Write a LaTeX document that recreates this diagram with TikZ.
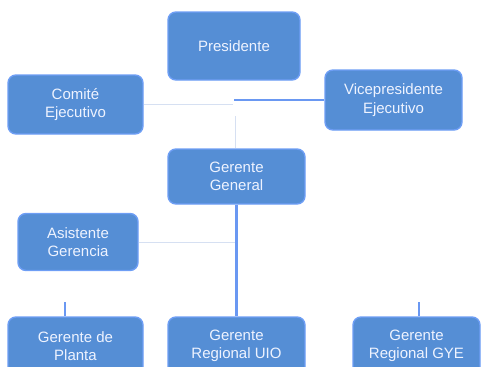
\documentclass[tikz,border=0pt]{standalone}
\usepackage{fontspec}
\setmainfont{Liberation Sans}
\usepackage{tikz}

\definecolor{boxfill}{HTML}{558ED5}
\definecolor{boxline}{HTML}{6E9EF5}
\definecolor{boxtext}{HTML}{EEF3FF}
\definecolor{linklight}{HTML}{D6E0F2}
\definecolor{linkblue}{HTML}{6A98F2}

\begin{document}
\begin{tikzpicture}[
            x = 1pt, y = -1pt, % pixel grid, y grows downwards
            font = \fontsize{15}{18.5}\selectfont
        ]

        \tikzstyle{post}=[
            draw = boxline,
            line width = 1.4pt,
            fill = boxfill,
            text = boxtext,
            rounded corners = 8pt,
            align = center,
            inner sep = 0pt
        ]
        \tikzstyle{thin link}=[draw = linklight, line width = 1pt]
        \tikzstyle{blue link}=[draw = linkblue, line width = 1.6pt]
        \tikzstyle{main link}=[draw = linkblue, line width = 3pt]

        \useasboundingbox (0,0) rectangle (483,367);

        % free ends of the links
        \coordinate (jC) at (233,104.5);
        \coordinate (jV) at (234,100);
        \coordinate (jG) at (235,116);
        \coordinate (sP) at (65,302);
        \coordinate (sY) at (419,302);

        \node[post, minimum width=132pt, minimum height=68pt] (pres) at (234,46) {Presidente};
        \node[post, minimum width=135pt, minimum height=59pt] (comite) at (75.5,104.5) {Comité\\Ejecutivo};
        \node[post, minimum width=137pt, minimum height=60pt] (vice) at (393.5,100) {Vicepresidente\\Ejecutivo};
        \node[post, minimum width=137pt, minimum height=55pt] (gg) at (236.5,176.5) {Gerente\\General};
        \node[post, minimum width=120pt, minimum height=57pt] (asis) at (78,242) {Asistente\\Gerencia};
        \node[post, minimum width=135pt, minimum height=58pt] (planta) at (75.5,346) {Gerente de\\Planta};
        \node[post, minimum width=137pt, minimum height=58pt] (uio) at (236.5,346) {Gerente\\Regional UIO};
        \node[post, minimum width=127pt, minimum height=58pt] (gye) at (416.5,346) {Gerente\\Regional GYE};

		% upper links
        \path[thin link] (comite.east) -- (jC);
        \path[blue link] (jV) -- (vice.west);
        \path[thin link] (jG) -- (jG |- gg.north);

        % lower links
        \path[thin link] (asis.east) -- (asis.east -| gg.south);
        \path[main link] (gg.south) -- (uio.north);
        \path[blue link] (sP) -- (sP |- planta.north);
        \path[blue link] (sY) -- (sY |- gye.north);

    \end{tikzpicture}
\end{document}
